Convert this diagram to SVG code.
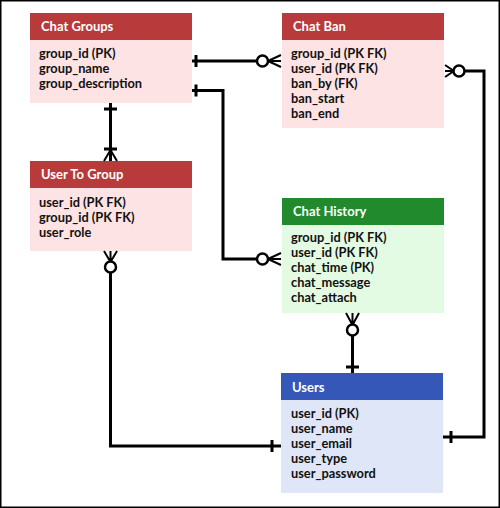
<svg xmlns="http://www.w3.org/2000/svg" width="500" height="508" viewBox="0 0 500 508">
<style>
.frame{fill:#fff;stroke:#000;stroke-width:1.5}
.hr{fill:#b83a3b}.br{fill:#fde3e3}
.hg{fill:#208a2c}.bg{fill:#e3fbe3}
.hb{fill:#3457b8}.bb{fill:#dfe6f8}
.t{font-family:Lato,"Liberation Sans",sans-serif;font-weight:bold;font-size:13px;fill:#fff}
.r{font-family:Lato,"Liberation Sans",sans-serif;font-weight:bold;font-size:12.8px;fill:#111}
.c{fill:none;stroke:#000;stroke-width:3}
.o{fill:#fff;stroke:#000;stroke-width:2.5}
.f{fill:none;stroke:#000;stroke-width:2}
</style>
<rect class="frame" x="0.75" y="0.75" width="498.5" height="506.5"/>
<g id="chat-groups">
<rect class="br" x="30" y="13" width="162" height="90"/>
<rect class="hr" x="30" y="13" width="162" height="27"/>
<text class="t" x="41" y="31">Chat Groups</text>
<text class="r" x="39" y="58">group_id (PK)</text>
<text class="r" x="39" y="73">group_name</text>
<text class="r" x="39" y="88">group_description</text>
</g>
<g id="user-to-group">
<rect class="br" x="30" y="161" width="162" height="90"/>
<rect class="hr" x="30" y="161" width="162" height="27"/>
<text class="t" x="41" y="179">User To Group</text>
<text class="r" x="39" y="207">user_id (PK FK)</text>
<text class="r" x="39" y="222">group_id (PK FK)</text>
<text class="r" x="39" y="237">user_role</text>
</g>
<g id="chat-ban">
<rect class="br" x="282" y="13" width="162" height="115"/>
<rect class="hr" x="282" y="13" width="162" height="27"/>
<text class="t" x="293" y="31">Chat Ban</text>
<text class="r" x="291" y="58">group_id (PK FK)</text>
<text class="r" x="291" y="73">user_id (PK FK)</text>
<text class="r" x="291" y="88">ban_by (FK)</text>
<text class="r" x="291" y="103">ban_start</text>
<text class="r" x="291" y="118">ban_end</text>
</g>
<g id="chat-history">
<rect class="bg" x="282" y="198" width="162" height="115"/>
<rect class="hg" x="282" y="198" width="162" height="27"/>
<text class="t" x="293" y="216">Chat History</text>
<text class="r" x="291" y="242">group_id (PK FK)</text>
<text class="r" x="291" y="257">user_id (PK FK)</text>
<text class="r" x="291" y="272">chat_time (PK)</text>
<text class="r" x="291" y="287">chat_message</text>
<text class="r" x="291" y="302">chat_attach</text>
</g>
<g id="users">
<rect class="bb" x="281" y="373" width="162" height="120"/>
<rect class="hb" x="281" y="373" width="162" height="27"/>
<text class="t" x="292" y="392">Users</text>
<text class="r" x="291" y="418">user_id (PK)</text>
<text class="r" x="291" y="433">user_name</text>
<text class="r" x="291" y="448">user_email</text>
<text class="r" x="291" y="463">user_type</text>
<text class="r" x="291" y="478">user_password</text>
</g>
<g id="connectors">
<path class="c" d="M192 61H257M196 55V67"/>
<path class="f" d="M268 61L281 55M268 61H281M268 61L281 67"/>
<circle class="o" cx="262.5" cy="61" r="5.5"/>
<path class="c" d="M192 90.5H223V259H257M196 84.5V96.5"/>
<path class="f" d="M268 259L281 253M268 259H281M268 259L281 265"/>
<circle class="o" cx="262.5" cy="259" r="5.5"/>
<path class="c" d="M110.5 103V161M104 109H117M104 149H117"/>
<path class="f" d="M110.5 150L104 161M110.5 150V161M110.5 150L117 161"/>
<path class="c" d="M110.5 272V446H281M272 440V452"/>
<path class="f" d="M110.5 262L104 251M110.5 262V251M110.5 262L117 251"/>
<circle class="o" cx="110.5" cy="267" r="5.5"/>
<path class="c" d="M464 71H484V437H443M451 431V443"/>
<path class="f" d="M454 71L445 65M454 71H445M454 71L445 77"/>
<circle class="o" cx="459" cy="71" r="5.5"/>
<path class="c" d="M352.5 335V373M346 367H359"/>
<path class="f" d="M352.5 325L346 313M352.5 325V313M352.5 325L359 313"/>
<circle class="o" cx="352.5" cy="330" r="5.5"/>
</g>
</svg>
